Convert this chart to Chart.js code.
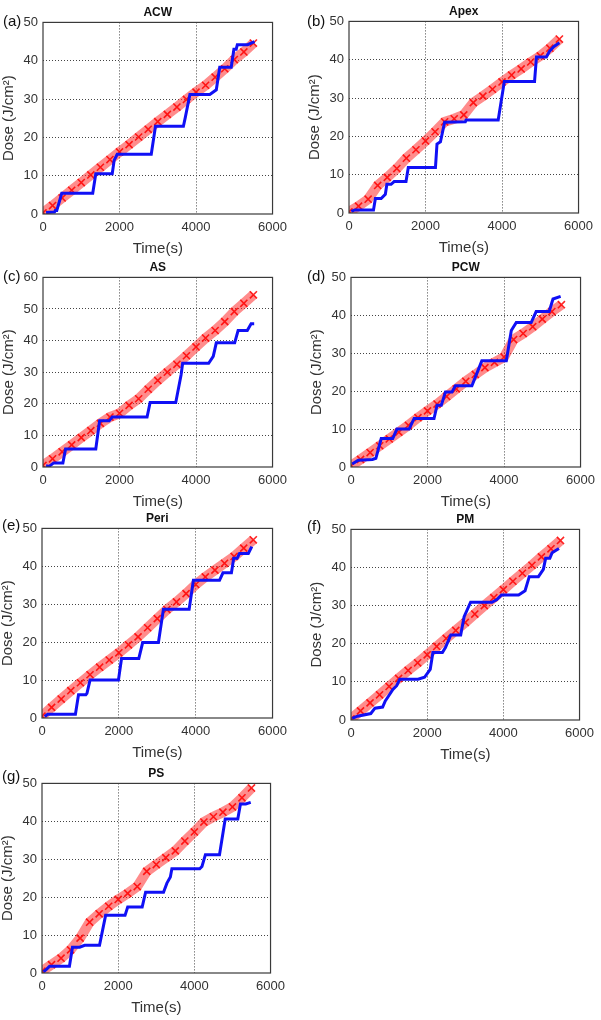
<!DOCTYPE html>
<html>
<head>
<meta charset="UTF-8">
<title>Dose vs time</title>
<script src="https://cdn.jsdelivr.net/npm/chart.js@4.4.0/dist/chart.umd.min.js"></script>
<style>
  body { margin: 0; background: #fff; width: 601px; height: 1020px; position: relative; overflow: hidden;
         font-family: "Liberation Sans", Arial, sans-serif; }
  .panel { position: absolute; }
  .tag { position: absolute; font-size: 15px; line-height: 16px; color: #111; }
</style>
<script>
// red crosses: shared time base, dose per region
const redTime = [0, 250, 500, 750, 1000, 1250, 1500, 1750, 2000, 2250, 2500, 2750,
                 3000, 3250, 3500, 3750, 4000, 4250, 4500, 4750, 5000, 5250, 5500];
const redACW  = [0.3, 2.2, 4.2, 6.2, 8.2, 10.2, 12.2, 14.2, 16.2, 18.1, 20.1, 22.1, 24.1, 26.0, 27.9, 29.9, 31.8, 33.6, 35.7, 37.9, 40.3, 42.3, 44.6];
const redApex = [0.3, 1.8, 3.6, 7.2, 9.3, 11.6, 14.3, 16.5, 18.8, 21.2, 23.8, 24.6, 25.6, 28.8, 30.5, 32.3, 34.2, 36.0, 37.6, 39.4, 41.0, 43.0, 45.4];
const redAS   = [0.5, 2.6, 4.8, 7.0, 9.3, 11.5, 13.8, 15.8, 17.0, 19.5, 21.6, 24.6, 27.4, 30.0, 32.5, 35.2, 38.0, 40.8, 43.2, 46.0, 49.2, 51.8, 54.5];
const redPCW  = [0.3, 2.0, 3.8, 5.6, 7.4, 9.2, 11.0, 13.0, 14.8, 16.6, 18.6, 20.6, 22.6, 24.4, 26.2, 27.6, 29.0, 33.6, 35.2, 37.0, 39.0, 41.0, 42.8];
const redPeri = [0.5, 2.8, 5.0, 7.2, 9.3, 11.4, 13.4, 15.3, 17.2, 19.3, 21.4, 23.8, 26.2, 28.6, 30.6, 32.8, 35.2, 37.2, 39.0, 40.8, 42.6, 44.8, 47.0];
const redPM   = [0.3, 2.4, 4.5, 6.6, 8.8, 10.9, 13.0, 15.0, 17.1, 19.3, 21.4, 23.5, 25.6, 27.8, 30.0, 32.1, 34.2, 36.4, 38.5, 40.6, 42.8, 44.9, 47.1];
const redPS   = [0.5, 2.2, 3.9, 6.1, 9.2, 13.4, 15.6, 17.6, 19.4, 21.0, 22.8, 26.8, 28.6, 30.4, 32.2, 34.8, 37.2, 39.8, 41.2, 42.4, 43.8, 46.2, 48.8];

// blue staircase: corner points per region
const blueTimeACW  = [80, 300, 320, 360, 490, 1300, 1380, 1810, 1860, 1940, 2830, 2940, 3670, 3720, 3840, 4360, 4530, 4620, 4920, 4990, 5050, 5080, 5350, 5530];
const blueDoseACW  = [0.4, 0.5, 0.9, 0.9, 5.4, 5.4, 10.5, 10.5, 14.0, 15.6, 15.6, 22.9, 22.9, 25.2, 31.2, 31.2, 32.4, 38.3, 38.3, 43.0, 43.0, 44.2, 44.2, 45.0];
const blueTimeApex = [60, 150, 640, 690, 840, 950, 990, 1100, 1180, 1490, 1550, 2260, 2300, 2390, 2500, 3040, 3060, 3900, 4060, 4850, 4900, 5160, 5240, 5350, 5500];
const blueDoseApex = [0.4, 0.8, 0.8, 3.8, 3.8, 4.9, 7.5, 7.5, 8.2, 8.2, 11.9, 11.9, 18.0, 18.6, 23.7, 23.8, 24.3, 24.3, 34.3, 34.3, 40.7, 40.7, 42.2, 43.4, 44.4];
const blueTimeAS   = [80, 160, 280, 520, 590, 1380, 1480, 1730, 1810, 2720, 2800, 3470, 3610, 3650, 4330, 4450, 4530, 5010, 5100, 5340, 5440, 5520];
const blueDoseAS   = [0.4, 0.2, 1.3, 1.3, 5.7, 5.7, 14.6, 14.6, 15.8, 15.8, 20.4, 20.4, 29.2, 32.8, 32.8, 35.0, 39.3, 39.3, 43.2, 43.2, 45.3, 45.3];
const blueTimePCW  = [30, 190, 560, 650, 790, 1090, 1200, 1520, 1650, 2170, 2250, 2360, 2470, 2640, 2730, 3160, 3420, 4060, 4190, 4320, 4710, 4840, 5180, 5280, 5480];
const blueDosePCW  = [0.8, 1.8, 2.0, 2.3, 7.5, 7.5, 10.0, 10.0, 12.8, 12.8, 16.3, 16.3, 19.8, 19.8, 21.4, 21.4, 28.0, 28.0, 36.0, 38.1, 38.1, 41.0, 41.0, 44.3, 45.0];
const blueTimePeri = [70, 150, 870, 950, 1140, 1170, 1250, 1990, 2070, 2520, 2620, 3030, 3160, 3830, 3940, 4620, 4710, 4930, 4990, 5080, 5140, 5370, 5460];
const blueDosePeri = [0.4, 1.0, 1.0, 6.1, 6.1, 6.5, 10.0, 10.0, 15.7, 15.7, 19.9, 19.9, 28.7, 28.7, 36.3, 36.3, 38.3, 38.3, 42.1, 42.1, 43.4, 43.4, 45.2];
const blueTimePM   = [30, 170, 520, 630, 830, 900, 1000, 1100, 1200, 1280, 1760, 1930, 2080, 2150, 2400, 2480, 2620, 2880, 2970, 3140, 3700, 3830, 3950, 4400, 4570, 4680, 4920, 5050, 5110, 5220, 5280, 5460];
const blueDosePM   = [0.4, 1.0, 1.7, 3.1, 3.4, 5.0, 6.5, 8.0, 9.0, 10.7, 10.7, 11.2, 13.3, 17.7, 17.7, 19.0, 22.3, 22.3, 27.1, 30.9, 30.9, 31.6, 32.8, 32.8, 33.9, 37.6, 37.6, 39.5, 42.4, 42.4, 43.9, 45.0];
const blueTimePS   = [40, 130, 200, 720, 800, 990, 1120, 1510, 1670, 2180, 2250, 2630, 2720, 3190, 3280, 3370, 3410, 4140, 4200, 4290, 4660, 4810, 5140, 5210, 5350, 5480];
const blueDosePS   = [0.3, 1.1, 1.8, 1.8, 6.8, 6.8, 7.3, 7.3, 15.2, 15.2, 17.4, 17.4, 21.3, 21.3, 23.7, 25.3, 27.5, 27.5, 28.1, 31.2, 31.2, 40.6, 40.6, 44.6, 44.6, 45.0];

const xTicks = [0, 2000, 4000, 6000];

function pts(xs, ys) {
  return xs.map((x, i) => ({ x: x, y: ys[i] }));
}

// box round the plot area, like the matlab axes
const frame = {
  id: 'frame',
  afterDraw(chart) {
    const a = chart.chartArea, ctx = chart.ctx;
    ctx.save();
    ctx.strokeStyle = '#3a3a3a';
    ctx.lineWidth = 1.2;
    ctx.strokeRect(a.left, a.top, a.right - a.left, a.bottom - a.top);
    ctx.restore();
  }
};

function panel(id, title, red, bt, bd, yMax) {
  const gridColor = (c) => (c.tick && (c.tick.value === c.scale.min || c.tick.value === c.scale.max)) ? 'rgba(0,0,0,0)' : '#444';
  new Chart(document.getElementById(id), {
    type: 'scatter',
    data: {
      datasets: [{
        data: pts(bt, bd),
        showLine: true,
        borderColor: '#1010f5',
        borderWidth: 3,
        pointRadius: 0,
        tension: 0
      }, {
        data: pts(redTime, red),
        showLine: true,
        borderColor: 'rgba(255,45,45,0.55)',
        borderWidth: 10,
        pointStyle: 'crossRot',
        pointRadius: 5,
        pointBorderWidth: 1.6,
        pointBorderColor: 'rgba(255,0,0,0.85)',
        tension: 0
      }]
    },
    options: {
      responsive: true,
      maintainAspectRatio: false,
      animation: false,
      layout: { padding: { left: 0, right: 18, top: 0, bottom: 0 } },
      plugins: {
        legend: { display: false },
        tooltip: { enabled: false },
        title: {
          display: true, text: title, fullSize: false, color: '#111',
          font: { family: 'Liberation Sans', size: 12, weight: 'bold' },
          padding: { top: 5, bottom: 3 }
        }
      },
      scales: {
        x: {
          type: 'linear', min: 0, max: 6000,
          afterBuildTicks: (s) => { s.ticks = xTicks.map(v => ({ value: v })); },
          afterFit: (s) => { s.height = 44; },
          ticks: { color: '#333', padding: 6, maxRotation: 0, callback: (v) => String(v),
                   font: { family: 'Liberation Sans', size: 13 } },
          grid: { color: gridColor, lineWidth: 1, drawTicks: false },
          border: { display: false, dash: [1, 2] },
          title: { display: true, text: 'Time(s)', color: '#333', padding: { top: 0, bottom: 0 },
                   font: { family: 'Liberation Sans', size: 15 } }
        },
        y: {
          min: 0, max: yMax,
          afterFit: (s) => { s.width = 43; },
          ticks: { stepSize: 10, color: '#333', padding: 5, font: { family: 'Liberation Sans', size: 13 } },
          grid: { color: gridColor, lineWidth: 1, drawTicks: false },
          border: { display: false, dash: [1, 2] },
          title: { display: true, text: 'Dose (J/cm²)', color: '#333', padding: { top: 0, bottom: 0 },
                   font: { family: 'Liberation Sans', size: 15 } }
        }
      }
    },
    plugins: [frame]
  });
}
</script>
</head>
<body>
  <!-- plot areas: a 43-275 x 22-214, b 349-581 x 21-213, c 43-275 x 277-467,
       d 351-583 x 277-467, e 42-275 x 528-718, f 351-582 x 529-720, g 42-273 x 783-973 -->
  <div class="panel" style="left:0px;   top:0px;   width:293px; height:258px;"><canvas id="cA"></canvas></div>
  <div class="panel" style="left:306px; top:-1px;  width:293px; height:258px;"><canvas id="cB"></canvas></div>
  <div class="panel" style="left:0px;   top:255px; width:293px; height:256px;"><canvas id="cC"></canvas></div>
  <div class="panel" style="left:308px; top:255px; width:293px; height:256px;"><canvas id="cD"></canvas></div>
  <div class="panel" style="left:-1px;  top:506px; width:294px; height:256px;"><canvas id="cE"></canvas></div>
  <div class="panel" style="left:308px; top:507px; width:292px; height:257px;"><canvas id="cF"></canvas></div>
  <div class="panel" style="left:-1px;  top:761px; width:292px; height:256px;"><canvas id="cG"></canvas></div>

  <div class="tag" style="left:3px;   top:13px;">(a)</div>
  <div class="tag" style="left:307px; top:13px;">(b)</div>
  <div class="tag" style="left:3px;   top:268px;">(c)</div>
  <div class="tag" style="left:307px; top:268px;">(d)</div>
  <div class="tag" style="left:2px;   top:517px;">(e)</div>
  <div class="tag" style="left:307px; top:518px;">(f)</div>
  <div class="tag" style="left:2px;   top:768px;">(g)</div>

<script>
  panel('cA', 'ACW',  redACW,  blueTimeACW,  blueDoseACW,  50);
  panel('cB', 'Apex', redApex, blueTimeApex, blueDoseApex, 50);
  panel('cC', 'AS',   redAS,   blueTimeAS,   blueDoseAS,   60);
  panel('cD', 'PCW',  redPCW,  blueTimePCW,  blueDosePCW,  50);
  panel('cE', 'Peri', redPeri, blueTimePeri, blueDosePeri, 50);
  panel('cF', 'PM',   redPM,   blueTimePM,   blueDosePM,   50);
  panel('cG', 'PS',   redPS,   blueTimePS,   blueDosePS,   50);
</script>
</body>
</html>
